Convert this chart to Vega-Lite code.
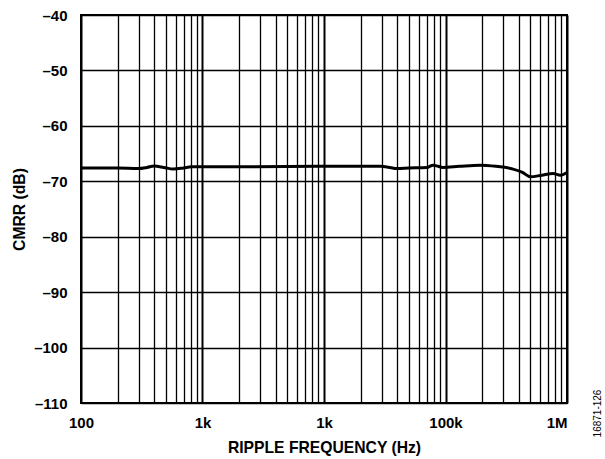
{
  "$schema": "https://vega.github.io/schema/vega-lite/v6.json",
  "width": 486,
  "height": 388,
  "autosize": {"type": "none"},
  "padding": {"left": 81, "top": 15, "right": 38, "bottom": 56},
  "background": "white",
  "config": {
    "view": {"stroke": "black", "strokeWidth": 2},
    "axis": {
      "labelFont": "Liberation Sans",
      "labelFontWeight": "bold",
      "labelFontSize": 15,
      "labelColor": "black",
      "titleFont": "Liberation Sans",
      "titleFontWeight": "bold",
      "titleFontSize": 15.7,
      "titleColor": "black",
      "gridColor": "black",
      "gridOpacity": 1,
      "ticks": false,
      "domain": false
    }
  },
  "data": {
    "values": [
      {"freq": 100, "cmrr": -67.6},
      {"freq": 150, "cmrr": -67.6},
      {"freq": 200, "cmrr": -67.6},
      {"freq": 296, "cmrr": -67.7},
      {"freq": 350, "cmrr": -67.5},
      {"freq": 400, "cmrr": -67.25},
      {"freq": 480, "cmrr": -67.5},
      {"freq": 575, "cmrr": -67.8},
      {"freq": 700, "cmrr": -67.6},
      {"freq": 810, "cmrr": -67.4},
      {"freq": 1000, "cmrr": -67.4},
      {"freq": 2000, "cmrr": -67.4},
      {"freq": 5000, "cmrr": -67.35},
      {"freq": 10000, "cmrr": -67.3},
      {"freq": 20000, "cmrr": -67.3},
      {"freq": 29000, "cmrr": -67.3},
      {"freq": 35000, "cmrr": -67.5},
      {"freq": 39600, "cmrr": -67.7},
      {"freq": 50000, "cmrr": -67.6},
      {"freq": 70000, "cmrr": -67.5},
      {"freq": 79000, "cmrr": -67.1},
      {"freq": 87000, "cmrr": -67.3},
      {"freq": 95000, "cmrr": -67.5},
      {"freq": 130000, "cmrr": -67.3},
      {"freq": 192000, "cmrr": -67.1},
      {"freq": 260000, "cmrr": -67.3},
      {"freq": 360000, "cmrr": -67.8},
      {"freq": 430000, "cmrr": -68.4},
      {"freq": 500000, "cmrr": -69.2},
      {"freq": 620000, "cmrr": -68.9},
      {"freq": 770000, "cmrr": -68.6},
      {"freq": 880000, "cmrr": -68.9},
      {"freq": 1000000, "cmrr": -68.4}
    ]
  },
  "layer": [
    {
      "mark": {"type": "line", "color": "black", "strokeWidth": 3, "interpolate": "monotone"},
      "encoding": {
        "x": {
          "field": "freq",
          "type": "quantitative",
          "scale": {"type": "log", "domain": [100, 1000000], "nice": false},
          "axis": {
            "title": "RIPPLE FREQUENCY (Hz)",
            "values": [100,200,300,400,500,600,700,800,900,1000,2000,3000,4000,5000,6000,7000,8000,9000,10000,20000,30000,40000,50000,60000,70000,80000,90000,100000,200000,300000,400000,500000,600000,700000,800000,900000,1000000],
            "labelExpr": "datum.value == 100 ? '100' : datum.value == 1000 ? '1k' : datum.value == 10000 ? '1k' : datum.value == 100000 ? '100k' : datum.value == 1000000 ? '1M' : ''",
            "labelOverlap": false,
            "labelFlush": false,
            "labelAlign": {"condition": {"test": "datum.value == 1000000", "value": "right"}, "value": "center"},
            "labelPadding": 12,
            "titlePadding": 10,
            "gridWidth": {"condition": {"test": "indexof([100,1000,10000,100000,1000000], datum.value) >= 0", "value": 2}, "value": 1.3}
          }
        },
        "y": {
          "field": "cmrr",
          "type": "quantitative",
          "scale": {"domain": [-110, -40], "nice": false},
          "axis": {
            "title": "CMRR (dB)",
            "values": [-110,-100,-90,-80,-70,-60,-50,-40],
            "labelExpr": "'–' + abs(datum.value)",
            "labelPadding": 14,
            "titlePadding": 6,
            "gridWidth": 1.5
          }
        }
      }
    },
    {
      "mark": {"type": "line", "strokeOpacity": 0},
      "encoding": {
        "x": {"field": "freq", "type": "quantitative"},
        "y": {
          "field": "cmrr",
          "type": "quantitative",
          "axis": {
            "orient": "right",
            "title": "16871-126",
            "labels": false,
            "grid": false,
            "titleFontWeight": "normal",
            "titleFontSize": 10,
            "titleAngle": 270,
            "titleAlign": "center",
            "titleBaseline": "middle",
            "titleX": 30,
            "titleY": 398
          }
        }
      }
    }
  ],
  "resolve": {"axis": {"y": "independent"}}
}
